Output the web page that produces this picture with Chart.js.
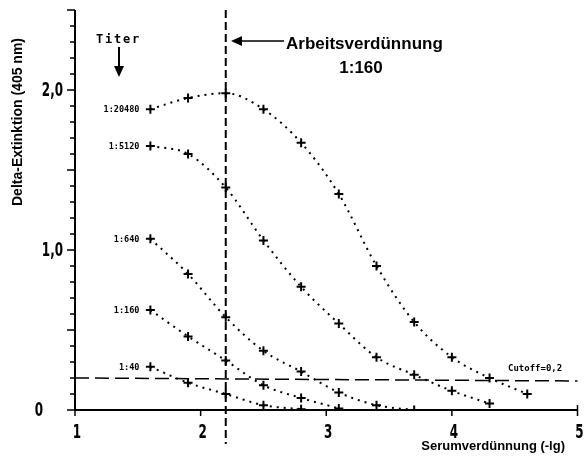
<!DOCTYPE html>
<html>
<head>
<meta charset="utf-8">
<script src="https://cdn.jsdelivr.net/npm/chart.js@4/dist/chart.umd.min.js"></script>
<style>
  html, body { margin: 0; padding: 0; background: #fff; }
  #wrap { width: 584px; height: 464px; }
</style>
</head>
<body>
<div id="wrap"><canvas id="c"></canvas></div>
<script>
// Serum dilution (-lg), two-fold steps from 1:40
const dilution = [1.6, 1.9, 2.2, 2.5, 2.8, 3.1, 3.4, 3.7, 4.0, 4.3, 4.6];

// Delta extinction per titer
const titerLabels = ['1:20480', '1:5120', '1:640', '1:160', '1:40'];
const t20480 = [1.88, 1.95, 1.98, 1.88, 1.67, 1.35, 0.90, 0.55, 0.33, 0.20, 0.10];
const t5120  = [1.65, 1.60, 1.39, 1.06, 0.77, 0.54, 0.33, 0.22, 0.12, 0.04];
const t640   = [1.07, 0.85, 0.58, 0.37, 0.24, 0.11, 0.03, 0.00];
const t160   = [0.625, 0.46, 0.31, 0.155, 0.075, 0.01];
const t40    = [0.27, 0.17, 0.10, 0.03, 0.005];

const xTicks = [1, 2, 3, 4, 5];
const yTickLabels = { 0: '0', 1: '1,0', 2: '2,0' };
const workDilution = 2.2;   // 1:160
const cutoff = 0.2;

const INK = '#000';
const series = [t20480, t5120, t640, t160, t40];

const datasets = series.map((vals, i) => ({
  label: titerLabels[i],
  data: vals.map((v, j) => ({ x: dilution[j], y: v })),
  borderColor: INK,
  borderWidth: 2,
  borderDash: [2, 5],
  borderCapStyle: 'butt',
  cubicInterpolationMode: 'monotone',
  pointStyle: 'cross',
  pointRadius: 4.5,
  pointBorderWidth: 2,
  pointBorderColor: INK,
  fill: false,
}));

function spaced(ctx, text, x, y, gap) {
  let cx = x;
  for (const ch of text) {
    ctx.fillText(ch, cx, y);
    cx += ctx.measureText(ch).width + gap;
  }
}

// Axes, tick marks and annotations drawn by hand from the chart's scales
const decor = {
  id: 'decor',
  afterDatasetsDraw(chart) {
    const { ctx, scales: { x, y } } = chart;
    const x0 = x.getPixelForValue(1), x1 = x.getPixelForValue(5);
    const y0 = y.getPixelForValue(0), yTop = y.getPixelForValue(2.5);
    ctx.save();
    ctx.strokeStyle = INK;
    ctx.fillStyle = INK;

    // axis lines
    ctx.lineWidth = 2;
    ctx.beginPath();
    ctx.moveTo(x0, yTop); ctx.lineTo(x0, y0); ctx.lineTo(x1, y0);
    ctx.stroke();

    // y ticks every 0.1, longer every 0.5
    ctx.lineWidth = 1.5;
    for (let k = 0; k <= 25; k++) {
      const py = Math.round(y.getPixelForValue(k / 10));
      const len = k % 5 === 0 ? 8 : 5;
      ctx.beginPath(); ctx.moveTo(x0 - len, py); ctx.lineTo(x0, py); ctx.stroke();
    }
    // x ticks
    xTicks.forEach(v => {
      const px = x.getPixelForValue(v);
      ctx.beginPath(); ctx.moveTo(px, y0 - (v === 5 ? 5 : 0)); ctx.lineTo(px, y0 + 6); ctx.stroke();
    });

    // tick labels (condensed)
    ctx.font = 'bold 19px "DejaVu Sans Condensed", "DejaVu Sans", sans-serif';
    ctx.textBaseline = 'middle';
    ctx.textAlign = 'center';
    xTicks.forEach(v => {
      const px = x.getPixelForValue(v);
      ctx.save(); ctx.translate(px + 2, y0 + 23); ctx.scale(0.7, 1);
      ctx.fillText(String(v), 0, 0); ctx.restore();
    });
    ctx.textAlign = 'right';
    Object.keys(yTickLabels).forEach(k => {
      const py = y.getPixelForValue(+k);
      ctx.save(); ctx.translate(k === '0' ? 43 : 63, py + 1); ctx.scale(0.7, 1);
      ctx.fillText(yTickLabels[k], 0, 0); ctx.restore();
    });

    // cutoff line
    ctx.lineWidth = 1.5;
    ctx.setLineDash([14, 6]);
    const yc = y.getPixelForValue(cutoff);
    ctx.beginPath(); ctx.moveTo(x0, yc); ctx.lineTo(x1, yc + 3); ctx.stroke();

    // working dilution line
    ctx.lineWidth = 2;
    ctx.setLineDash([8, 4]);
    const xw = x.getPixelForValue(workDilution);
    ctx.beginPath(); ctx.moveTo(xw, yTop); ctx.lineTo(xw, y0 + 34); ctx.stroke();
    ctx.setLineDash([]);

    // series labels next to first point
    ctx.font = 'bold 8.5px "DejaVu Sans Mono", monospace';
    ctx.textAlign = 'right';
    series.forEach((vals, i) => {
      ctx.fillText(titerLabels[i], x.getPixelForValue(dilution[0]) - 11, y.getPixelForValue(vals[0]) + 1);
    });

    // Cutoff text
    ctx.textAlign = 'left';
    ctx.font = 'bold 9px "DejaVu Sans Mono", monospace';
    ctx.fillText('Cutoff=0,2', 508, yc - 9);

    // Titer with down arrow
    ctx.font = 'bold 12px "DejaVu Sans Mono", monospace';
    spaced(ctx, 'Titer', 96, 40, 1.8);
    ctx.lineWidth = 2;
    ctx.beginPath(); ctx.moveTo(119, 47); ctx.lineTo(119, 70); ctx.stroke();
    ctx.beginPath(); ctx.moveTo(114, 66); ctx.lineTo(124, 66); ctx.lineTo(119, 77); ctx.closePath(); ctx.fill();

    // Arbeitsverdünnung with left arrow
    ctx.lineWidth = 1.5;
    ctx.beginPath(); ctx.moveTo(240, 41); ctx.lineTo(284, 41); ctx.stroke();
    ctx.beginPath(); ctx.moveTo(231, 41); ctx.lineTo(242, 36); ctx.lineTo(242, 46); ctx.closePath(); ctx.fill();
    ctx.font = 'bold 17px "Liberation Sans", Arial, sans-serif';
    ctx.textAlign = 'left';
    ctx.fillText('Arbeitsverdünnung', 286, 44, 180);
    ctx.textAlign = 'center';
    ctx.fillText('1:160', 361, 68);

    // axis titles
    ctx.font = 'bold 13px "Liberation Sans", Arial, sans-serif';
    ctx.textAlign = 'right';
    ctx.fillText('Serumverdünnung (-lg)', 565, 446);
    ctx.save();
    ctx.translate(18, 122);
    ctx.rotate(-Math.PI / 2);
    ctx.textAlign = 'center';
    ctx.font = 'bold 14px "Liberation Sans", Arial, sans-serif';
    ctx.fillText('Delta-Extinktion (405 nm)', 0, 0, 226);
    ctx.restore();

    ctx.restore();
  }
};

new Chart(document.getElementById('c'), {
  type: 'line',
  data: { datasets },
  options: {
    responsive: true,
    maintainAspectRatio: false,
    animation: false,
    layout: { padding: { left: 75, right: 4, top: 10, bottom: 54 } },
    plugins: { legend: { display: false }, tooltip: { enabled: false } },
    scales: {
      x: { type: 'linear', min: 1, max: 5, display: false },
      y: { type: 'linear', min: 0, max: 2.5, display: false },
    },
  },
  plugins: [decor],
});
</script>
</body>
</html>
